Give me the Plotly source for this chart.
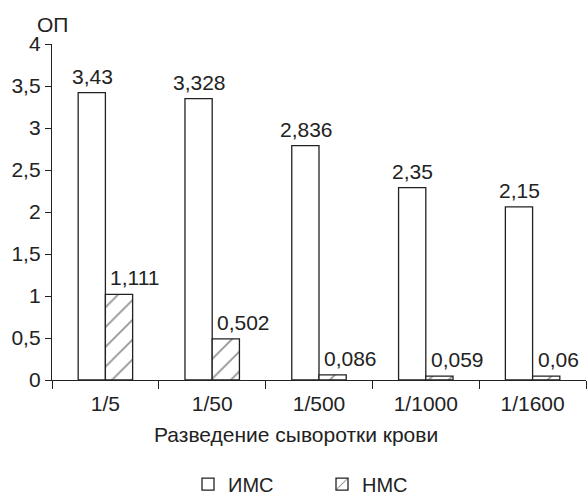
import plotly.graph_objects as go

categories = ["1/5", "1/50", "1/500", "1/1000", "1/1600"]
ims_values = [3.42, 3.35, 2.79, 2.29, 2.06]
nms_values = [1.02, 0.49, 0.06, 0.045, 0.045]
ims_labels = ["3,43", "3,328", "2,836", "2,35", "2,15"]
nms_labels = ["1,111", "0,502", "0,086", "0,059", "0,06"]
y_ticks = [0, 0.5, 1, 1.5, 2, 2.5, 3, 3.5, 4]
y_tick_labels = ["0", "0,5", "1", "1,5", "2", "2,5", "3", "3,5", "4"]

FONT = "Liberation Sans, Arial, sans-serif"
INK = "#222222"
FS = 21

fig = go.Figure()
fig.add_trace(go.Bar(
    name="ИМС", x=categories, y=ims_values,
    marker=dict(color="white", line=dict(color=INK, width=1.3)),
))
fig.add_trace(go.Bar(
    name="НМС", x=categories, y=nms_values,
    marker=dict(color="white", line=dict(color=INK, width=1.3),
                pattern=dict(shape="/", fgcolor=INK, bgcolor="white", size=14, solidity=0.12)),
))

annotations = []
for c, v, t in zip(categories, ims_values, ims_labels):
    annotations.append(dict(x=c, y=v, text=t, xref="x", yref="y", showarrow=False,
                            xshift=-13, yshift=3, yanchor="bottom", xanchor="center",
                            font=dict(family=FONT, size=FS, color=INK)))
for c, v, t in zip(categories, nms_values, nms_labels):
    annotations.append(dict(x=c, y=v, text=t, xref="x", yref="y", showarrow=False,
                            xshift=3, yshift=3, yanchor="bottom", xanchor="left",
                            font=dict(family=FONT, size=FS, color=INK)))
annotations.append(dict(x=0, y=1, xref="paper", yref="paper", text="ОП", showarrow=False,
                        xanchor="center", yanchor="middle", yshift=20,
                        font=dict(family=FONT, size=FS, color=INK)))
annotations.append(dict(x=0.457, y=-0.161, xref="paper", yref="paper",
                        text="Разведение сыворотки крови", showarrow=False,
                        xanchor="center", yanchor="middle",
                        font=dict(family=FONT, size=FS, color=INK)))

fig.update_layout(
    width=587, height=499,
    margin=dict(l=52, r=1, t=44, b=119, autoexpand=False),
    paper_bgcolor="white", plot_bgcolor="white",
    barmode="group", bargap=0.49, bargroupgap=0,
    font=dict(family=FONT, size=FS, color=INK),
    annotations=annotations,
    legend=dict(orientation="h", x=0.2547, xanchor="left", y=0.03, yref="container",
                yanchor="middle", entrywidth=89, entrywidthmode="pixels",
                font=dict(family=FONT, size=20, color=INK), itemwidth=30,
                traceorder="normal"),
    xaxis=dict(showline=True, linecolor=INK, linewidth=1.3, ticks="outside", ticklen=8,
               tickcolor=INK, tickwidth=1.3, tickson="boundaries", showgrid=False,
               zeroline=False, automargin=False, ticklabelstandoff=5,
               tickfont=dict(family=FONT, size=FS, color=INK)),
    yaxis=dict(range=[0, 4], showline=True, linecolor=INK, linewidth=1.3, ticks="outside",
               ticklen=6, tickcolor=INK, tickwidth=1.3, tickvals=y_ticks,
               ticktext=y_tick_labels, showgrid=False, zeroline=False, automargin=False,
               tickfont=dict(family=FONT, size=FS, color=INK)),
)

fig.write_html("out.html", config={"displayModeBar": False},
               post_script="document.body.style.margin='0';")
